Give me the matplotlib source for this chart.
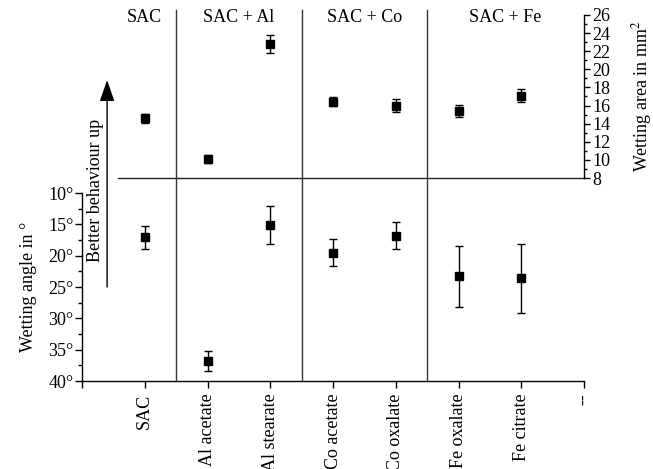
import numpy as np
import matplotlib
matplotlib.use("Agg")
import matplotlib.pyplot as plt
import matplotlib.transforms as mtrans
from matplotlib.ticker import MultipleLocator

plt.rcParams['font.family'] = ['Liberation Serif', 'DejaVu Serif']
plt.rcParams['mathtext.fontset'] = 'stix'
plt.rcParams['font.size'] = 13

# Samples, one per x position
samples = ['SAC', 'Al acetate', 'Al stearate', 'Co acetate', 'Co oxalate',
           'Fe oxalate', 'Fe citrate']
groups = ['SAC', 'SAC + Al', 'SAC + Co', 'SAC + Fe']
group_pos = [1.0, 2.5, 4.5, 6.75]
group_bounds = [1.5, 3.5, 5.5]

# Wetting angle in degrees (lower panel)
angle = [17.1, 36.8, 15.1, 19.5, 16.8, 23.3, 23.6]
angle_err = [1.9, 1.6, 3.0, 2.2, 2.2, 4.9, 5.5]

# Wetting area in mm^2 (upper panel)
area = [14.6, 10.1, 22.8, 16.4, 16.0, 15.4, 17.1]
area_err = [0.5, 0.4, 1.0, 0.5, 0.7, 0.7, 0.7]

xpos = np.arange(1, len(samples) + 1)

W, H = 653, 469
fig = plt.figure(figsize=(W / 100, H / 100), dpi=100)

# pixel boxes from the reference
ax_bot = fig.add_axes([82 / W, (H - 381) / H, 502 / W, 188 / H])
ax_top = fig.add_axes([82 / W, (H - 178) / H, 502 / W, 163 / H])
ax_bot.patch.set_visible(False)
ax_top.patch.set_visible(False)

# ---- lower panel: wetting angle
ax_bot.errorbar(xpos, angle, yerr=angle_err, fmt='s', color='black',
                markersize=6, capsize=3, elinewidth=1.0, capthick=1.0)
ax_bot.set_xlim(0, 8)
ax_bot.set_ylim(40, 10)
ax_bot.yaxis.set_major_locator(MultipleLocator(5))
ax_bot.yaxis.set_minor_locator(MultipleLocator(2.5))
ax_bot.yaxis.set_major_formatter(plt.FuncFormatter(lambda v, p: '%d°' % v))
ax_bot.set_xticks(np.arange(0, 9))
ax_bot.set_xticklabels([''] + samples + ['--'], rotation=90, va='top')
ax_bot.tick_params(axis='both', which='major', direction='out', length=5,
                   width=1.0, labelsize=13)
ax_bot.tick_params(axis='y', which='minor', direction='out', length=3, width=1.0)
ax_bot.tick_params(axis='x', pad=4)
ax_bot.tick_params(axis='y', pad=1)
for s in ['top', 'right']:
    ax_bot.spines[s].set_visible(False)
for s in ['left', 'bottom']:
    ax_bot.spines[s].set_linewidth(1.0)
ax_bot.set_ylabel('Wetting angle in °', fontsize=13, labelpad=8)

# ---- upper panel: wetting area
ax_top.errorbar(xpos, area, yerr=area_err, fmt='s', color='black',
                markersize=6, capsize=3, elinewidth=1.0, capthick=1.0)
ax_top.set_xlim(0, 8)
ax_top.set_ylim(8, 26)
ax_top.yaxis.tick_right()
ax_top.yaxis.set_label_position('right')
ax_top.yaxis.set_major_locator(MultipleLocator(2))
ax_top.yaxis.set_minor_locator(MultipleLocator(1))
ax_top.tick_params(axis='y', which='major', direction='out', length=4,
                   width=1.0, labelsize=13, pad=2)
ax_top.tick_params(axis='y', which='minor', direction='out', length=2.5, width=1.0)
ax_top.set_xticks([])
for s in ['top', 'left', 'bottom']:
    ax_top.spines[s].set_visible(False)
ax_top.spines['right'].set_linewidth(1.0)
ax_top.set_ylabel('Wetting area in mm$^2$', fontsize=13, rotation=90, labelpad=14)
ax_top.axhline(8, xmin=36 / 502, xmax=1, color='#222222', lw=1.0, clip_on=False)

# group labels
for g, gx in zip(groups, group_pos):
    ax_top.text(gx, 0.985, g, transform=ax_top.get_xaxis_transform(),
                ha='center', va='center', fontsize=13)

# group separators spanning both panels
sep_tr = mtrans.blended_transform_factory(ax_top.transData, fig.transFigure)
for b in group_bounds:
    ax_top.plot([b, b], [(H - 381) / H, (H - 10) / H], color='#333333',
                lw=1.0, transform=sep_tr, clip_on=False)

# arrow
ax_bot.annotate('', xy=(0.4, 18.8), xycoords=ax_top.transData,
                xytext=(0.4, 25), textcoords=ax_bot.transData,
                arrowprops=dict(arrowstyle='-|>,head_length=1.0,head_width=0.35',
                                color='black', lw=1.0, shrinkA=0, shrinkB=0),
                annotation_clip=False)
fig.text(95 / W, (H - 190) / H, 'Better behaviour up', rotation=90,
         ha='center', va='center', fontsize=13)

fig.savefig('out.png', dpi=100)
